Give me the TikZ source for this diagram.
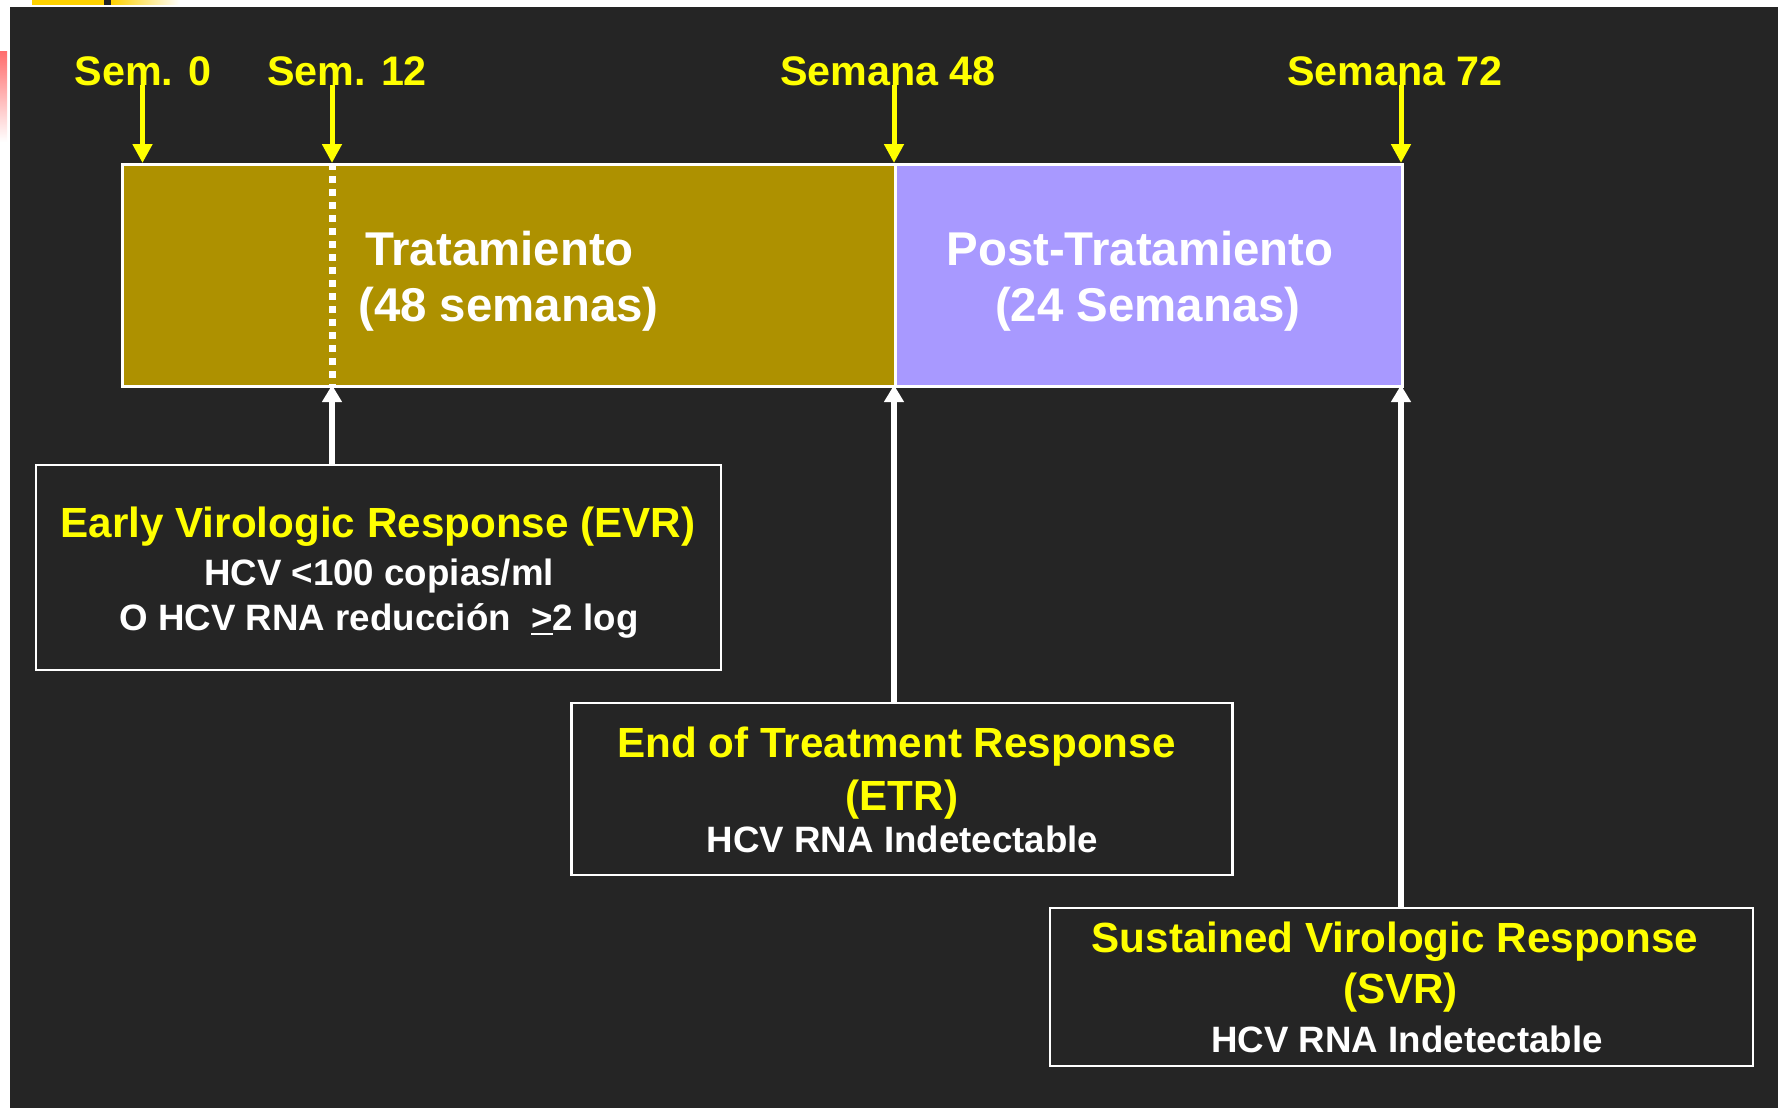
\documentclass[tikz,border=0pt]{standalone}
\usepackage{fontspec}
\setmainfont{Liberation Sans}
\usetikzlibrary{arrows.meta}
\definecolor{bgc}{HTML}{252525}
\definecolor{goldc}{HTML}{AE9100}
\definecolor{lavc}{HTML}{A899FF}
\definecolor{ylw}{HTML}{FFFF00}
\definecolor{barY}{HTML}{FFD200}
\definecolor{redc}{HTML}{FF6E6E}
\newsavebox\gtbox
\newcommand\toplabfont{\fontsize{41.3}{49}\selectfont\bfseries}
\newcommand\mainfontsz{\fontsize{47.4}{56}\selectfont\bfseries}
\newcommand\ttlfont{\fontsize{42.2}{50}\selectfont\bfseries}
\newcommand\bodyfont{\fontsize{36.7}{44}\selectfont\bfseries}
\newcommand\ulgt{\sbox\gtbox{>}\rlap{\rule[-5pt]{\wd\gtbox}{2.5pt}}\usebox\gtbox}
\begin{document}
\begin{tikzpicture}[x=1pt,y=-1pt,
  toplab/.style={text=ylw,font=\toplabfont,anchor=base,inner sep=0pt},
  maintxt/.style={text=white,font=\mainfontsz,anchor=base,inner sep=0pt},
  ttl/.style={text=ylw,font=\ttlfont,anchor=base,inner sep=0pt},
  body/.style={text=white,font=\bodyfont,anchor=base,inner sep=0pt},
  phase/.style={draw=white,line width=2.5pt,inner sep=0pt,anchor=north west,minimum height=222pt},
  rbox/.style={draw=white,line width=2.5pt,inner sep=0pt,fill=bgc},
  yarr/.style={draw=ylw,line width=5pt,-{Triangle[width=19pt,length=19pt]}},
  warr/.style={draw=white,line width=6pt,-{Triangle[width=19pt,length=17pt]}},
  dotl/.style={draw=white,line width=7pt,dash pattern=on 7pt off 6pt}]
\useasboundingbox (0,0) rectangle (1778,1108);
% background
\fill[white] (0,0) rectangle (1778,1108);
\fill[bgc] (10,7) rectangle (1778,1108);
\fill[barY] (32,0) rectangle (104,4.7);
\fill[bgc] (104,0) rectangle (111,4.7);
\shade[left color=barY,right color=white] (111,0) rectangle (180,4.7);
\shade[top color=redc,bottom color=white] (0,52) rectangle (7,142);
% phases
\node[phase,fill=goldc,minimum width=773pt] (trt) at (121,163) {};
\node[phase,fill=lavc,minimum width=507pt] (post) at (894,163) {};
% key points
\coordinate (t12) at (332,163);
\coordinate (b12) at (332,385);
\coordinate (b48) at (894,385);
\coordinate (b72) at (1401,385);
\coordinate (a0) at (142.5,85);
\coordinate (a12) at (332,85);
\coordinate (a48) at (894,85);
\coordinate (a72) at (1401,85);
\draw[dotl] (t12) -- (b12);
% top labels
\node[toplab] (s0) at (143,85) {Sem. 0};
\node[toplab] (s12) at (347,85) {Sem. 12};
\node[toplab] (s48) at (888,85) {Semana 48};
\node[toplab] (s72) at (1395,85) {Semana 72};
\draw[yarr] (a0) -- (a0 |- trt.north);
\draw[yarr] (a12) -- (t12);
\draw[yarr] (a48) -- (a48 |- trt.north);
\draw[yarr] (a72) -- (a72 |- post.north);
% phase text
\node[maintxt] (tr1) at (499.5,265) {Tratamiento};
\node[maintxt] (tr2) at (508.5,321) {(48 semanas)};
\node[maintxt] (po1) at (1140,265) {Post-Tratamiento};
\node[maintxt] (po2) at (1148,321) {(24 Semanas)};
% boxes
\node[rbox,minimum width=685pt,minimum height=205pt] (evr) at (378.5,567.5) {};
\node[rbox,minimum width=661pt,minimum height=172pt] (etr) at (902,789) {};
\node[rbox,minimum width=703pt,minimum height=158pt] (svr) at (1401.5,987) {};
\draw[warr] (evr.north -| b12) -- (b12);
\draw[warr] (etr.north -| b48) -- (b48);
\draw[warr] (svr.north -| b72) -- (b72);
% box texts
\node[ttl] (evr1) at (378,537) {Early Virologic Response (EVR)};
\node[body] (evr2) at (379,585) {HCV <100 copias/ml};
\node[body] (evr3) at (379,630) {O HCV RNA reducción\ \ \ulgt{}2 log};
\node[ttl] (etr1) at (896.5,757) {End of Treatment Response};
\node[ttl] (etr2) at (902,810) {(ETR)};
\node[body] (etr3) at (902.5,852) {HCV RNA Indetectable};
\node[ttl] (svr1) at (1395,952) {Sustained Virologic Response};
\node[ttl] (svr2) at (1400.5,1003) {(SVR)};
\node[body] (svr3) at (1407,1052) {HCV RNA Indetectable};
\end{tikzpicture}
\end{document}
